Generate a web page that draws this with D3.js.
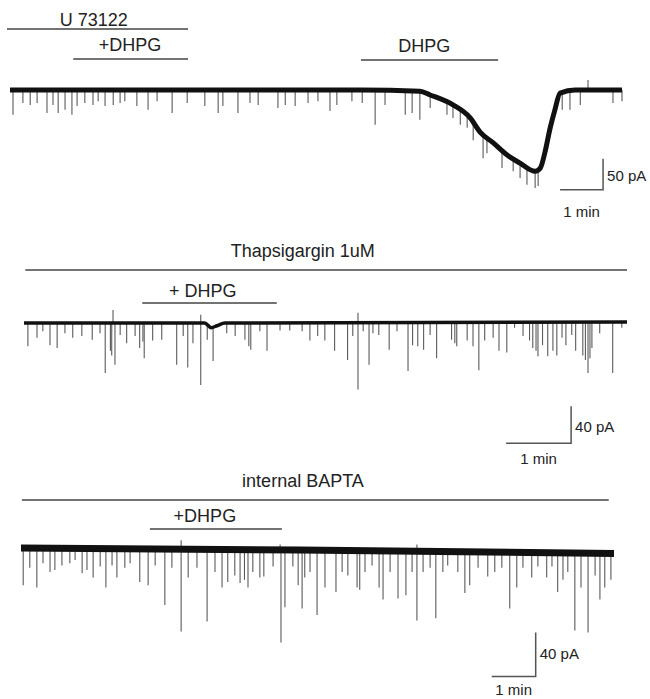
<!DOCTYPE html>
<html>
<head>
<meta charset="utf-8">
<script src="https://cdn.jsdelivr.net/npm/d3@7"></script>
<style>
  body { margin: 0; background: #fff; }
  svg text { font-family: "Liberation Sans", Arial, sans-serif; fill: #222; }
</style>
</head>
<body>
<div id="chart"></div>
<script>
// time in min, current in pA (inward = negative)

// --- trace 1: U 73122, then +DHPG, then DHPG alone
const trace1Baseline = [
  [0, 0], [4.42, 0], [8.14, 0], [9.53, -2], [9.77, -8], [10.30, -24], [10.70, -45],
  [10.93, -68], [11.23, -85], [11.56, -105], [11.86, -118], [12.21, -131], [12.33, -126],
  [12.44, -100], [12.56, -61], [12.67, -32], [12.79, -5], [13.14, 0], [14.23, 0]
];
const trace1Events = [
  [0.07, -40], [0.30, -21], [0.47, -24], [0.63, -21], [0.86, -37], [1.00, -24], [1.12, -37],
  [1.28, -32], [1.44, -40], [1.56, -26], [1.74, -21], [1.93, -24], [2.05, -18], [2.21, -26],
  [2.40, -24], [2.56, -21], [2.67, -18], [2.95, -26], [3.21, -32], [3.42, -18], [3.77, -37],
  [4.12, -21], [4.53, -26], [4.84, -37], [4.95, -26], [5.30, -37], [5.58, -21], [5.77, -24],
  [6.23, -29], [6.40, -24], [6.63, -26], [6.93, -21], [7.16, -18], [7.44, -34], [7.60, -24],
  [7.95, -18], [8.19, -21], [8.49, -56], [8.72, -24], [9.19, -40], [9.35, -37], [9.53, -48],
  [9.77, -29], [10.16, -40], [10.30, -45], [10.47, -56], [10.63, -61], [10.77, -81],
  [11.00, -110], [11.09, -102], [11.44, -126], [11.70, -131], [11.86, -142], [12.02, -153],
  [12.21, -158], [12.28, -155], [12.63, -50], [12.84, -32], [13.02, -32], [13.26, -24],
  [13.44, 16], [14.02, -21], [14.23, -18]
];

// --- trace 2: Thapsigargin 1uM, +DHPG
const trace2Baseline = [[0, 0], [2.78, 0], [2.88, -5], [2.97, -3], [3.09, 0], [9.28, 1]];
const trace2Events = [
  [0.06, -25], [0.20, -16], [0.29, -9], [0.40, -24], [0.51, -27], [0.63, -11], [0.75, -16],
  [0.89, -14], [1.05, -18], [1.17, -11], [1.25, -54], [1.33, -30], [1.35, -35], [1.37, 14],
  [1.40, -45], [1.48, -13], [1.58, -22], [1.71, -14], [1.78, -27], [1.83, -20], [1.85, -38],
  [1.98, -19], [2.12, -18], [2.35, -45], [2.45, -14], [2.52, -48], [2.60, -22], [2.72, -67],
  [2.72, 9], [2.82, -18], [2.91, -41], [3.12, -11], [3.25, -14], [3.40, -18], [3.46, -25],
  [3.49, -29], [3.63, -9], [3.74, -30], [3.94, -8], [4.09, -8], [4.28, -9], [4.40, -19],
  [4.52, -14], [4.63, -19], [4.78, -30], [4.98, -40], [5.06, -14], [5.14, -72], [5.14, 11],
  [5.22, -9], [5.31, -45], [5.37, -11], [5.46, -13], [5.62, -29], [5.74, -9], [5.91, -52],
  [5.98, -24], [6.06, -25], [6.15, -29], [6.25, -13], [6.35, -38], [6.58, -18], [6.63, -22],
  [6.66, -25], [6.82, -19], [6.91, -25], [7.00, -51], [7.09, -19], [7.22, -16], [7.31, -30],
  [7.43, -32], [7.55, -5], [7.68, -14], [7.78, -19], [7.83, -27], [7.88, -30], [7.91, -36],
  [7.98, -24], [8.06, -36], [8.14, -30], [8.20, -35], [8.28, -16], [8.34, -24], [8.43, -13],
  [8.49, -30], [8.60, -35], [8.64, -40], [8.68, -54], [8.71, -38], [8.74, -27], [8.86, -11],
  [9.06, -54], [9.20, -5]
];

// --- trace 3: internal BAPTA, +DHPG
const trace3Baseline = [[0, 1], [6.34, -1], [13.48, -4]];
const trace3Events = [
  [0.05, -33], [0.20, -17], [0.36, -35], [0.50, -13], [0.66, -21], [0.77, -19], [0.93, -15],
  [1.11, -13], [1.23, -10], [1.39, -22], [1.50, -19], [1.64, -26], [1.80, -16], [1.93, -35],
  [2.07, -15], [2.18, -26], [2.36, -17], [2.48, -13], [2.70, -30], [2.89, -33], [3.05, -15],
  [3.27, -51], [3.43, -17], [3.64, -75], [3.64, 8], [3.80, -26], [4.00, -17], [4.23, -66],
  [4.41, -21], [4.57, -35], [4.70, -30], [4.86, -24], [4.98, -31], [5.08, -28], [5.16, -35],
  [5.27, -21], [5.43, -26], [5.52, -25], [5.73, -16], [5.89, 4], [5.91, -85], [6.00, -53],
  [6.18, -16], [6.30, -33], [6.39, -54], [6.45, -26], [6.57, -21], [6.73, -60], [6.91, -35],
  [7.16, -39], [7.30, -21], [7.43, -24], [7.64, -35], [7.70, -37], [7.82, -21], [7.98, -15],
  [8.14, -35], [8.23, -46], [8.39, -21], [8.57, -45], [8.75, -42], [8.89, -21], [9.00, -65],
  [9.00, 4], [9.14, -21], [9.30, -17], [9.43, -63], [9.59, -21], [9.70, -15], [9.93, -21],
  [10.09, -40], [10.20, -33], [10.39, -17], [10.61, -25], [10.77, -21], [10.93, -17],
  [11.11, -54], [11.27, -35], [11.41, -17], [11.61, -26], [11.75, -16], [11.95, -26],
  [12.07, -16], [12.20, -39], [12.32, -28], [12.43, -21], [12.59, -74], [12.73, -35],
  [12.89, -76], [13.05, -24], [13.16, -46], [13.27, -35], [13.41, -28]
];

// drug application bars: [label, start, end]
const trace1Bars = [["U 73122", -0.07, 4.14], ["+DHPG", 1.47, 4.14], ["DHPG", 8.16, 11.35]];
const trace2Bars = [["Thapsigargin 1uM", 0.02, 9.28], ["+ DHPG", 1.82, 3.89]];
const trace3Bars = [["internal BAPTA", 0.02, 13.36], ["+DHPG", 2.93, 5.93]];

// scale bars: [minutes, pA]
const trace1ScaleBar = [1, 50];
const trace2ScaleBar = [1, 40];
const trace3ScaleBar = [1, 40];

const W = 650, H = 699;
const svg = d3.select("#chart").append("svg").attr("width", W).attr("height", H);

const panels = [
  {
    baseline: trace1Baseline, events: trace1Events, bars: trace1Bars, scaleBar: trace1ScaleBar,
    xRange: [10, 622], tEnd: 14.23, y0: 90, pxPer10pA: 6.2, band: 5,
    barY: [29, 59, 60], labelY: [26, 51, 52], labelT: [1.95, 2.79, 9.63],
    corner: [13.79, -161], paDy: 7, minDy: 27
  },
  {
    baseline: trace2Baseline, events: trace2Events, bars: trace2Bars, scaleBar: trace2ScaleBar,
    xRange: [24, 627], tEnd: 9.28, y0: 323, pxPer10pA: 9.25, band: 3.5,
    barY: [270, 303], labelY: [257, 297], labelT: [4.29, 2.75],
    corner: [8.42, -130], paDy: 7, minDy: 21
  },
  {
    baseline: trace3Baseline, events: trace3Events, bars: trace3Bars, scaleBar: trace3ScaleBar,
    xRange: [21, 614], tEnd: 13.48, y0: 549, pxPer10pA: 11, band: 7,
    barY: [500, 529], labelY: [487, 522], labelT: [6.41, 4.18],
    corner: [11.70, -116], paDy: 4, minDy: 18
  }
];

panels.forEach(p => {
  const x = d3.scaleLinear().domain([0, p.tEnd]).range(p.xRange);
  const y = d3.scaleLinear().domain([0, -10]).range([p.y0, p.y0 + p.pxPer10pA]);
  const baseAt = d3.scaleLinear()
    .domain(p.baseline.map(d => d[0]))
    .range(p.baseline.map(d => d[1]));

  const g = svg.append("g");

  // drug bars + labels
  p.bars.forEach((b, i) => {
    g.append("line")
      .attr("x1", x(b[1])).attr("x2", x(b[2]))
      .attr("y1", p.barY[i]).attr("y2", p.barY[i])
      .attr("stroke", "#444").attr("stroke-width", 1.6);
    g.append("text")
      .attr("x", x(p.labelT[i])).attr("y", p.labelY[i])
      .attr("text-anchor", "middle")
      .style("font-size", "18px")
      .text(b[0]);
  });

  // events (spikes) drawn from the local baseline to the tip
  g.append("g").selectAll("line")
    .data(p.events)
    .enter().append("line")
    .attr("x1", d => x(d[0])).attr("x2", d => x(d[0]))
    .attr("y1", d => y(baseAt(d[0])))
    .attr("y2", d => y(d[1]))
    .attr("stroke", "#5a5a5a")
    .attr("stroke-width", 1.1);

  // holding current, drawn as a thick band for the noise
  g.append("path")
    .datum(p.baseline)
    .attr("d", d3.line().curve(d3.curveMonotoneX).x(d => x(d[0])).y(d => y(d[1])))
    .attr("fill", "none")
    .attr("stroke", "#111")
    .attr("stroke-width", p.band)
    .attr("stroke-linejoin", "round");

  // scale bar
  const [ct, ci] = p.corner;
  const [sMin, sPA] = p.scaleBar;
  g.append("path")
    .attr("d", `M${x(ct - sMin)},${y(ci)}H${x(ct)}V${y(ci + sPA)}`)
    .attr("fill", "none").attr("stroke", "#555").attr("stroke-width", 1.5);
  g.append("text")
    .attr("x", x(ct) + 4).attr("y", (y(ci) + y(ci + sPA)) / 2 + p.paDy)
    .style("font-size", "15px")
    .text(`${sPA} pA`);
  g.append("text")
    .attr("x", x(ct - sMin / 2)).attr("y", y(ci) + p.minDy)
    .attr("text-anchor", "middle")
    .style("font-size", "15px")
    .text(`${sMin} min`);
});
</script>
</body>
</html>
